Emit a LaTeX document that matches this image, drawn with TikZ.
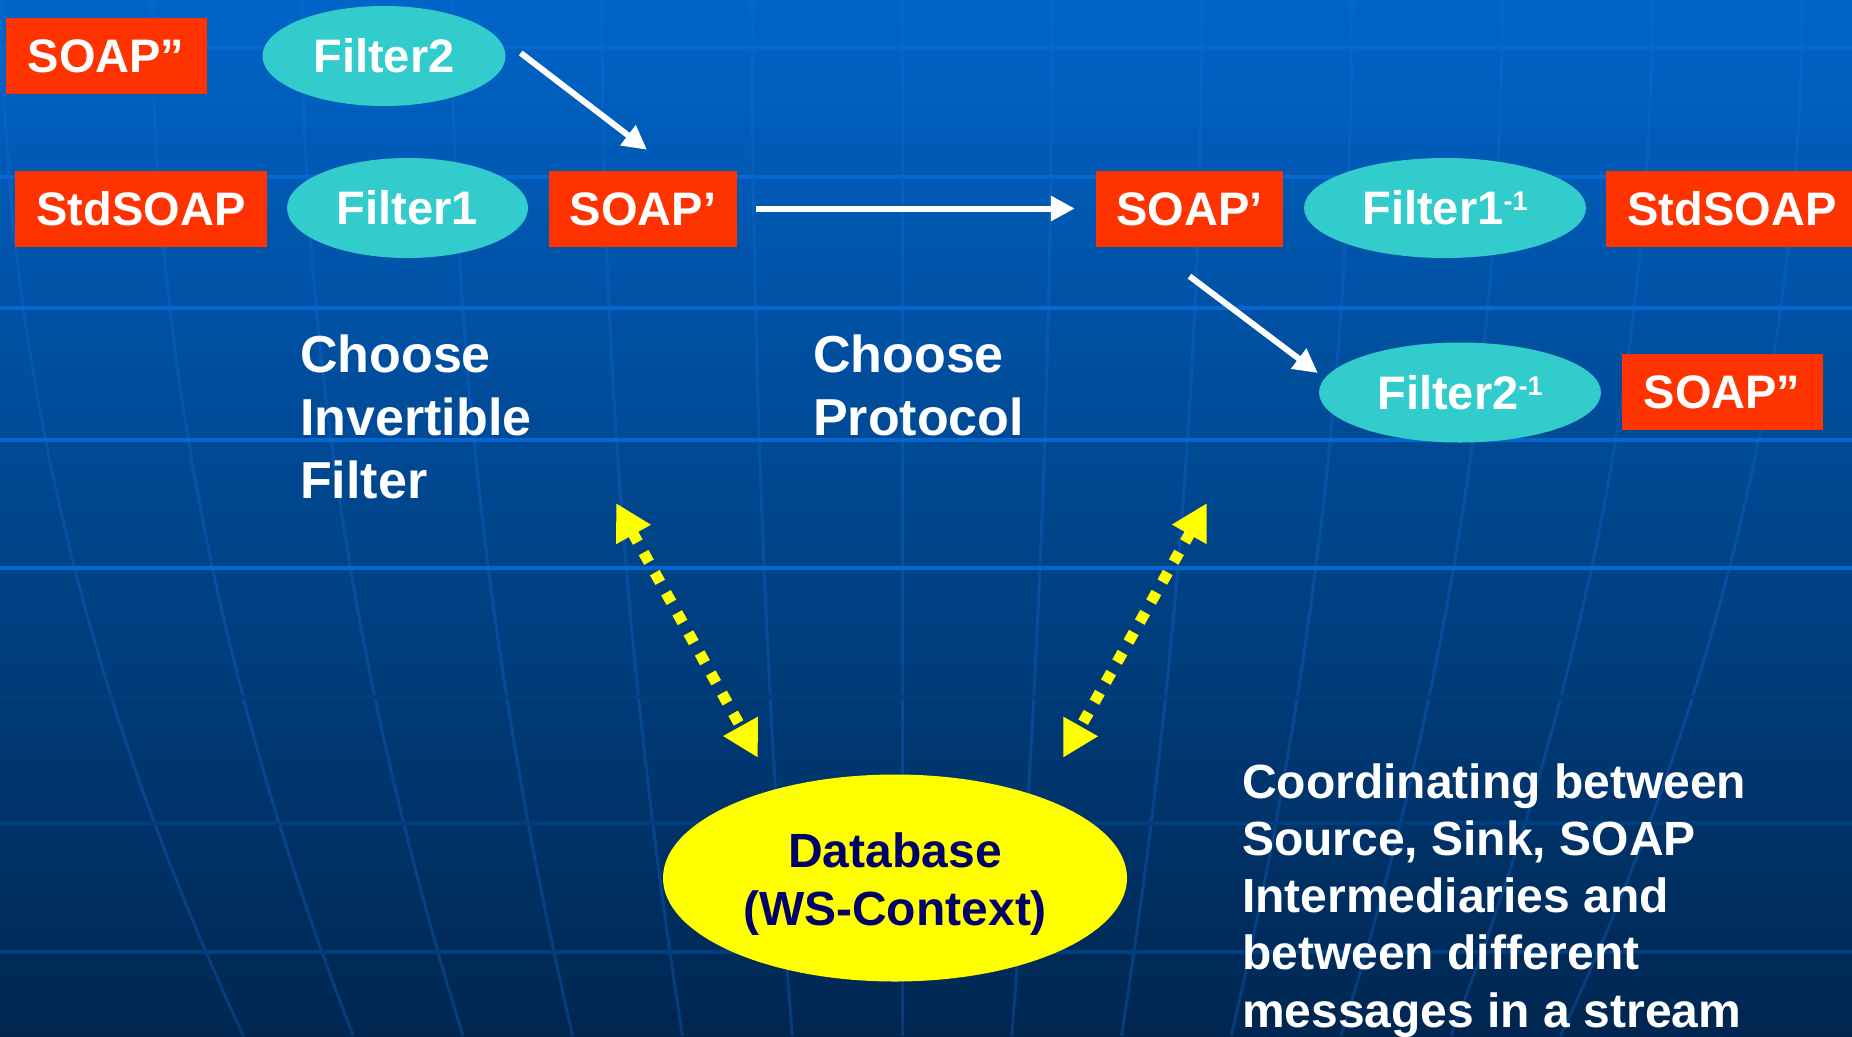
\documentclass[tikz,border=0pt]{standalone}
\usepackage{fontspec}
\setmainfont{Liberation Sans}
\usetikzlibrary{arrows.meta,shapes.geometric}
\definecolor{soapred}{RGB}{255,51,0}
\definecolor{filtcyan}{RGB}{51,204,204}
\definecolor{dbyellow}{RGB}{255,255,0}
\definecolor{dbnavy}{RGB}{0,0,102}
\definecolor{bgtop}{RGB}{0,100,200}
\definecolor{bgbot}{RGB}{0,38,80}
\definecolor{gridhi}{RGB}{5,104,208}
\definecolor{gridlo}{RGB}{0,62,125}
\definecolor{meridcol}{RGB}{20,110,220}
\newcommand\supm[1]{\raisebox{14pt}{\fontsize{27}{27}\selectfont #1}}
\begin{document}
\begin{tikzpicture}[x=1pt,y=-1pt,
  boxfont/.style={font=\fontsize{47}{56}\selectfont\bfseries},
  redbox/.style={rectangle, fill=soapred, inner sep=0pt, minimum height=76pt,
    text=white, boxfont, text height=33.6pt, text depth=0pt},
  filt/.style={ellipse, fill=filtcyan, inner sep=0pt, minimum height=100pt,
    text=white, boxfont, text height=33.6pt, text depth=0pt},
  warrow/.style={draw=white, line width=6pt, -{Triangle[length=24pt,width=24pt]}},
  yarrow/.style={draw=dbyellow, line width=11pt, dash pattern=on 11pt off 12pt,
    {Triangle[length=36pt,width=37pt]}-{Triangle[length=36pt,width=37pt]}},
  lbltext/.style={text=white, inner sep=0pt, anchor=base west},
  meridian/.style={draw=meridcol, draw opacity=0.3, line width=3pt},
  hlinehi/.style={draw=gridhi, line width=3.5pt},
  hlinelo/.style={draw=gridlo, line width=3.5pt},
]
\useasboundingbox (0,0) rectangle (1852,1036);
% background
\shade[top color=bgtop, bottom color=bgbot] (0,0) rectangle (1852,1036);
\foreach \k in {-6,...,6} {
  \draw[meridian] plot[domain=0:1036, samples=30, variable=\t]
    ({902+150*\k*(1-0.25*(\t/1000)^2)}, \t);
}
\foreach \yy in {47,177,308,440,568} \draw[hlinehi] (0,\yy) -- (1852,\yy);
\foreach \yy in {697,823,952} \draw[hlinelo] (0,\yy) -- (1852,\yy);

% nodes
\node[redbox, minimum width=201pt] (s2a) at (106,56) {SOAP”};
\node[filt, minimum width=243pt] (f2) at (384,56) {Filter2};
\node[redbox, minimum width=252pt] (std1) at (141,208.5) {StdSOAP};
\node[filt, minimum width=241pt] (f1) at (407.5,208) {Filter1};
\node[redbox, minimum width=188pt] (s1a) at (643,208.5) {SOAP’};
\node[redbox, minimum width=187pt] (s1b) at (1189.5,208.5) {SOAP’};
\node[filt, minimum width=282pt] (f1inv) at (1445,208) {Filter1\supm{-1}};
\node[redbox, minimum width=252pt] (std2) at (1732,208.5) {StdSOAP};
\node[filt, minimum width=282pt] (f2inv) at (1460,392.5) {Filter2\supm{-1}};
\node[redbox, minimum width=201pt] (s2b) at (1722,392) {SOAP”};

\node[lbltext, font=\fontsize{52}{63}\selectfont\bfseries] (choosef) at (300,372)
  {\begin{tabular}[t]{@{}l@{}}Choose\\Invertible\\Filter\end{tabular}};
\node[lbltext, font=\fontsize{52}{63}\selectfont\bfseries] (choosep) at (813,372)
  {\begin{tabular}[t]{@{}l@{}}Choose\\Protocol\end{tabular}};
\node[lbltext, font=\fontsize{48}{57.3}\selectfont\bfseries] (coord) at (1242,798)
  {\begin{tabular}[t]{@{}l@{}}Coordinating between\\Source, Sink, SOAP\\Intermediaries and\\between different\\messages in a stream\end{tabular}};

\node[ellipse, fill=dbyellow, minimum width=464pt, minimum height=207pt, inner sep=0pt,
  text=dbnavy, font=\fontsize{48}{58}\selectfont\bfseries] (db) at (895,878)
  {\raisebox{-7pt}[\height][\depth]{\begin{tabular}{@{}c@{}}Database\\(WS-Context)\end{tabular}}};

% connectors
\draw[warrow] ([xshift=15pt,yshift=3pt]f2.east) -- ([xshift=4pt,yshift=20.5pt]s1a.north);
\draw[warrow] ([xshift=19pt]s1a.east) -- ([xshift=-21pt]s1b.west);
\draw[warrow] ([yshift=-29.5pt]s1b.south) -- ([xshift=-1pt,yshift=19.5pt]f2inv.west);

\coordinate (qa) at (616,503);
\coordinate (qb) at (1207,503);
\draw[yarrow] (qa) -- ([xshift=-137pt,yshift=16.5pt]db.north);
\draw[yarrow] (qb) -- ([xshift=168pt,yshift=16.5pt]db.north);
\end{tikzpicture}
\end{document}
